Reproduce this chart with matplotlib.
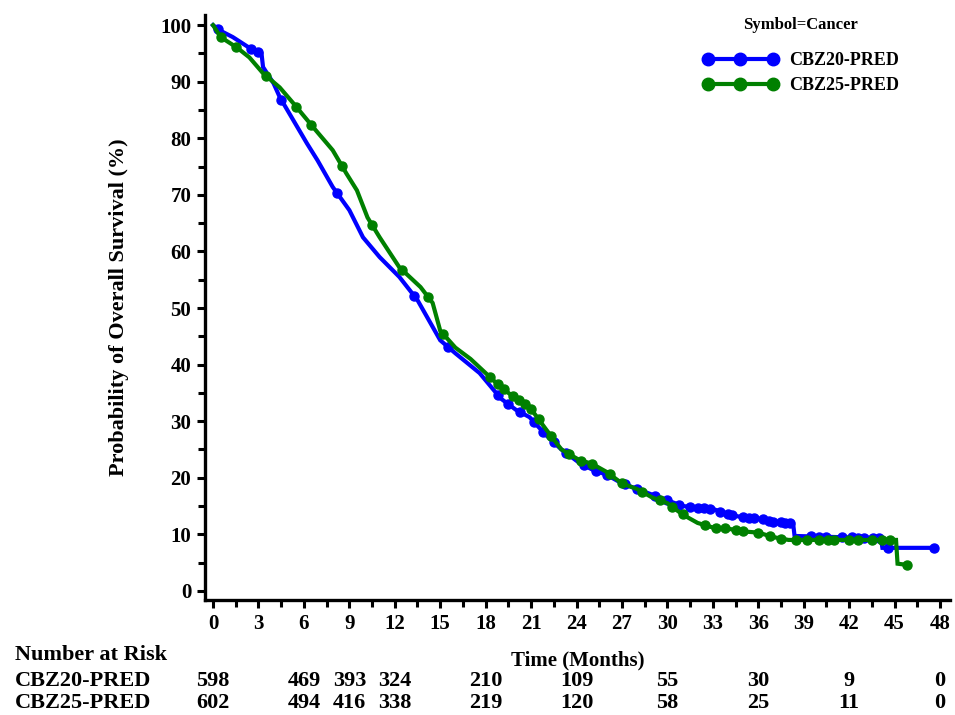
"""Kaplan-Meier 全生存曲線(CBZ20-PRED vs CBZ25-PRED)とリスク集合表の再現。"""

import matplotlib

matplotlib.use("Agg")
import matplotlib.pyplot as plt
import numpy as np
from matplotlib.lines import Line2D
from matplotlib.ticker import MultipleLocator
from matplotlib.transforms import blended_transform_factory

# --- データ ---
groups = ["CBZ20-PRED", "CBZ25-PRED"]
colors = ["#0000FF", "#008000"]

cbz20_time = [0, 0.5, 1.3, 2.4, 3.2, 3.3, 4.0, 4.4, 5.3, 6.2, 6.9, 7.9, 9.0, 9.9,
              11.0, 12.3, 13.5, 15.0, 16.0, 17.6, 19.0, 20.0, 20.9, 22.0, 23.0,
              24.2, 25.0, 26.0, 27.0, 28.0, 29.0, 30.0, 31.0, 32.0, 33.0, 34.0,
              35.0, 36.0, 37.0, 38.3, 38.4, 44.1, 44.2, 47.6]
cbz20_surv = [100, 99, 97.9, 96, 95, 92.6, 89.7, 87.3, 83.2, 79.1, 76.1, 71.4, 67.3,
              62.5, 59, 55.5, 51.4, 44.3, 42, 38.5, 34, 32, 30.7, 27.5, 25, 22.6,
              21.5, 20.5, 19, 18, 17, 16, 15, 14.7, 14.5, 13.5, 13, 12.8, 12.2, 12,
              9.7, 9.3, 7.6, 7.6]

cbz25_time = [0, 0.5, 1.6, 2.4, 3.3, 4.4, 5.3, 6.6, 7.9, 8.8, 9.5, 10.2, 11.0,
              12.3, 13.7, 14.5, 15.0, 16.0, 17.0, 18.0, 19.0, 20.0, 20.9, 22.0,
              23.0, 24.2, 25.0, 26.0, 27.0, 28.0, 29.0, 30.0, 31.0, 32.0, 33.0,
              34.0, 35.0, 36.0, 37.0, 38.0, 45.1, 45.2, 45.8]
cbz25_surv = [100, 97.9, 96, 94.3, 91.5, 89, 86.2, 82, 77.9, 73.8, 70.8, 66, 62.5,
              57.2, 53.7, 50.9, 46, 43, 41, 38.5, 36, 34, 32.5, 28.5, 25, 23.1, 22.5,
              21, 19, 18, 16.5, 15.5, 13.5, 12, 11.2, 11, 10.5, 10.3, 9.5, 9, 9, 4.8,
              4.6]

# 打ち切り時点(月)
cbz20_censor = [0.3, 2.5, 3.0, 4.5, 8.2, 13.3, 15.5, 18.8, 19.5, 20.3, 21.2, 21.8,
                22.5, 23.3, 24.5, 25.3, 26, 27.2, 28, 29.2, 30, 30.8, 31.5, 32,
                32.4, 32.8, 33.5, 34.0, 34.3, 35, 35.4, 35.7, 36.3, 36.7, 37,
                37.5, 37.8, 38.1, 39.5, 40.0, 40.5, 41.5, 42.2, 42.6, 43, 43.6,
                44, 44.6, 47.6]
cbz25_censor = [0.5, 1.5, 3.5, 5.5, 6.5, 8.5, 10.5, 12.5, 14.2, 15.2, 18.3, 18.8,
                19.2, 19.8, 20.2, 20.6, 21.0, 21.5, 22.3, 23.5, 24.3, 25, 26.2,
                27, 28.3, 29.5, 30.3, 31, 32.5, 33.2, 33.8, 34.5, 35, 36, 36.8,
                37.5, 38.5, 39.2, 40, 40.6, 41, 42, 42.6, 43.5, 44.2, 44.7, 45.8]

risk_times = [0, 6, 9, 12, 18, 24, 30, 36, 42, 48]
cbz20_risk = [598, 469, 393, 324, 210, 109, 55, 30, 9, 0]
cbz25_risk = [602, 494, 416, 338, 219, 120, 58, 25, 11, 0]

curves = [(cbz20_time, cbz20_surv, cbz20_censor, cbz20_risk),
          (cbz25_time, cbz25_surv, cbz25_censor, cbz25_risk)]

plt.rcParams["font.family"] = ["Liberation Serif", "DejaVu Serif"]
plt.rcParams["font.weight"] = "bold"

fig = plt.figure(figsize=(9.55, 7.15), dpi=100)
ax = fig.add_axes([0.2147, 0.161, 0.78, 0.818])

for (t, s, cens, _), color in zip(curves, colors):
    ax.plot(t, s, color=color, lw=3.0, solid_joinstyle="miter")
    ax.plot(cens, np.interp(cens, t, s), "o", color=color, ms=6.5, mec=color)

ax.set_xlim(-0.53, 48.66)
ax.set_ylim(-1.6, 101.8)
ax.xaxis.set_major_locator(MultipleLocator(3))
ax.xaxis.set_minor_locator(MultipleLocator(1.5))
ax.yaxis.set_major_locator(MultipleLocator(10))
ax.yaxis.set_minor_locator(MultipleLocator(5))
for side in ("top", "right"):
    ax.spines[side].set_visible(False)
for side in ("left", "bottom"):
    ax.spines[side].set_linewidth(2.4)
ax.tick_params(which="major", length=6, width=2.2, labelsize=15, pad=4)
ax.tick_params(which="minor", length=5, width=2.2)
for lab in ax.get_xticklabels() + ax.get_yticklabels():
    lab.set_fontweight("bold")

ax.set_ylabel("Probability of Overall Survival (%)", fontsize=16,
              fontweight="bold", labelpad=22)
ax.set_xlabel("Time (Months)", fontsize=15, fontweight="bold", labelpad=12)

# 凡例(タイトルは別テキストで配置)
fig.text(0.838, 0.965, "Symbol=Cancer", fontsize=12, fontweight="bold",
         ha="center", va="center")
handles = [Line2D([], [], color=c, lw=3.0, marker="o", ms=9) for c in colors]
leg = fig.legend(handles, groups, loc="upper left",
                 bbox_to_anchor=(0.728, 0.937), frameon=False, numpoints=3,
                 handlelength=4.2, handletextpad=0.6, fontsize=13,
                 labelspacing=0.45, borderaxespad=0)
for txt in leg.get_texts():
    txt.set_fontweight("bold")

# リスク集合表
trans = blended_transform_factory(ax.transData, fig.transFigure)
fig.text(0.016, 0.084, "Number at Risk", fontsize=16, fontweight="bold",
         va="center", ha="left")
row_y = [0.047, 0.017]
for (_, _, _, risk), name, y in zip(curves, groups, row_y):
    fig.text(0.016, y, name, fontsize=16, fontweight="bold", va="center",
             ha="left")
    for t, n in zip(risk_times, risk):
        ax.text(t, y, str(n), transform=trans, fontsize=16, fontweight="bold",
                ha="center", va="center", clip_on=False)

fig.savefig("out.png", dpi=100)
